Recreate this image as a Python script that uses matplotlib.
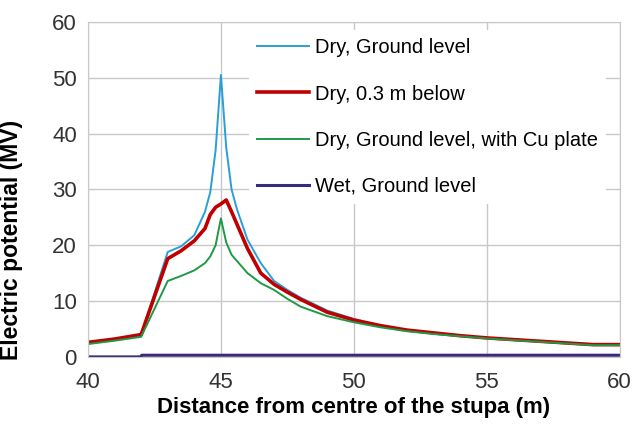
import matplotlib
matplotlib.use("Agg")
import matplotlib.pyplot as plt

plt.rcParams['font.family'] = ['Liberation Sans', 'DejaVu Sans']

x = [40, 41, 42, 43, 43.5, 44, 44.4, 44.6, 44.8, 45, 45.2, 45.4, 45.6, 46, 46.5,
     47, 47.5, 48, 49, 50, 51, 52, 53, 54, 55, 56, 57, 58, 59, 60]
dry_ground = [2.6, 3.1, 4.0, 18.8, 19.8, 21.8, 26.0, 29.5, 37.0, 50.5, 37.5, 30.0, 26.5, 21.0, 16.8,
              13.6, 12.0, 10.6, 8.3, 6.8, 5.6, 4.8, 4.3, 3.8, 3.4, 3.1, 2.8, 2.5, 2.2, 2.2]
dry_below = [2.6, 3.2, 4.0, 17.6, 19.0, 20.8, 23.0, 25.5, 26.8, 27.4, 28.1, 26.0, 23.8, 19.4, 15.0,
             13.0, 11.6, 10.3, 8.0, 6.6, 5.6, 4.8, 4.3, 3.8, 3.4, 3.1, 2.8, 2.5, 2.2, 2.2]
dry_cu = [2.3, 2.9, 3.6, 13.6, 14.5, 15.5, 16.8, 18.0, 20.0, 24.8, 20.5, 18.3, 17.2, 15.0, 13.2,
          12.0, 10.4, 9.0, 7.3, 6.2, 5.3, 4.6, 4.1, 3.7, 3.3, 3.0, 2.7, 2.4, 2.1, 2.1]
wet_x = [40, 42, 42.02, 60]
wet = [0.0, 0.0, 0.3, 0.3]

labels = ["Dry, Ground level", "Dry, 0.3 m below", "Dry, Ground level, with Cu plate", "Wet, Ground level"]
colors = ["#2a9fd6", "#c00000", "#1e9a46", "#3b2a7a"]

fig = plt.figure(figsize=(6.33, 4.30), dpi=100)
ax = fig.add_axes([0.139, 0.170, 0.840, 0.779])

ax.plot(x, dry_ground, color=colors[0], lw=1.4, label=labels[0])
ax.plot(x, dry_below, color=colors[1], lw=2.6, label=labels[1])
ax.plot(x, dry_cu, color=colors[2], lw=1.4, label=labels[2])
ax.plot(wet_x, wet, color=colors[3], lw=2.2, label=labels[3])

ax.set_xlim(40, 60)
ax.set_ylim(0, 60)
ax.set_xticks([40, 45, 50, 55, 60])
ax.set_yticks([0, 10, 20, 30, 40, 50, 60])
ax.grid(True, color="#c8c8c8", lw=1.0)
ax.set_axisbelow(True)
for s in ax.spines.values():
    s.set_color("#c8c8c8")
ax.tick_params(axis="x", pad=11)
ax.tick_params(axis="y", pad=8)
ax.tick_params(length=0, labelsize=16, colors="#333333")

ax.set_xlabel("Distance from centre of the stupa (m)", fontsize=16, fontweight="bold", labelpad=3)
ax.set_ylabel("Electric potential (MV)", fontsize=16.5, fontweight="bold")
ax.yaxis.set_label_coords(-0.122, 0.35)

leg = ax.legend(loc="upper left", bbox_to_anchor=(0.302, 0.975), frameon=True, fontsize=14.5,
                handlelength=2.6, handletextpad=0.3, labelspacing=1.35, borderaxespad=0)
leg.get_frame().set_edgecolor("none")
leg.get_frame().set_facecolor("white")
leg.get_frame().set_alpha(1.0)

fig.savefig("out.png", dpi=100)
